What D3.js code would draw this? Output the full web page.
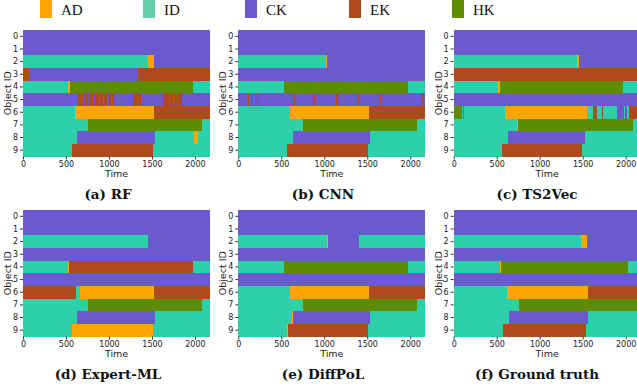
<!DOCTYPE html>
<html lang="en">
<head>
    <meta charset="UTF-8">
    <title>Object state timelines</title>
    <style>
        body { margin: 0; background: #fff; }
        .tick text { font-family: "DejaVu Sans", sans-serif; fill: #222; }
        .tick line { stroke: #333; }
    </style>
</head>
<body>
<script src="https://cdn.jsdelivr.net/npm/d3@7/dist/d3.min.js"></script>
<script>
    // state labels and colours
    const states = ["AD", "ID", "CK", "EK", "HK"];
    const plotColors = ["#ffa500", "#2dd1a9", "#6a5acd", "#ae4a1c", "#5e8c00"];
    const legendColors = ["#ffa500", "#66cdaa", "#6a5acd", "#ae4a1c", "#5f8f00"];

    const objectIds = [0, 1, 2, 3, 4, 5, 6, 7, 8, 9];
    const timeTicks = [0, 500, 1000, 1500, 2000];
    const END = 2175;

    // each row: list of [state, end time], start = previous end
    const rfRows = [
        [["CK", END]],
        [["CK", END]],
        [["ID", 1450], ["AD", 1523], ["CK", END]],
        [["EK", 20], ["CK", 28], ["EK", 45], ["CK", 50], ["EK", 70], ["CK", 1333], ["EK", END]],
        [["ID", 527], ["AD", 543], ["HK", 1977], ["ID", END]],
        [["CK", 636], ["EK", 680], ["CK", 686], ["EK", 715], ["CK", 722], ["EK", 760], ["CK", 770], ["EK", 830],
         ["CK", 838], ["EK", 880], ["CK", 895], ["EK", 935], ["CK", 945], ["EK", 975], ["CK", 1000], ["EK", 1020],
         ["CK", 1040], ["EK", 1060], ["CK", 1275], ["EK", 1300], ["CK", 1308], ["EK", 1330], ["CK", 1340], ["EK", 1372],
         ["CK", 1632], ["EK", 1660], ["CK", 1668], ["EK", 1700], ["CK", 1712], ["EK", 1740], ["CK", 1755], ["EK", 1790],
         ["CK", 1800], ["EK", 1845], ["CK", END]],
        [["ID", 608], ["AD", 1523], ["EK", END]],
        [["ID", 752], ["HK", 2081], ["ID", END]],
        [["ID", 632], ["CK", 1531], ["ID", 1988], ["AD", 2035], ["ID", END]],
        [["ID", 570], ["EK", 1508], ["ID", END]]
    ];
    const cnnRows = [
        [["CK", END]],
        [["CK", END]],
        [["ID", 1023], ["AD", 1030], ["CK", END]],
        [["CK", END]],
        [["ID", 527], ["AD", 535], ["HK", 1969], ["ID", END]],
        [["CK", 112], ["EK", 128], ["CK", 149], ["EK", 155], ["CK", 223], ["EK", 228], ["CK", 389], ["EK", 394],
         ["CK", 610], ["EK", 616], ["CK", 649], ["EK", 655], ["CK", 886], ["EK", 891], ["CK", 1136], ["EK", 1160],
         ["CK", 1397], ["EK", 1402], ["CK", 1651], ["EK", 1665], ["CK", 1928], ["EK", 1933], ["CK", 2140],
         ["EK", 2160], ["CK", END]],
        [["ID", 601], ["AD", 1523], ["EK", END]],
        [["ID", 748], ["HK", 2078], ["ID", END]],
        [["ID", 632], ["CK", 1527], ["ID", END]],
        [["ID", 570], ["EK", 1504], ["ID", END]]
    ];
    const ts2vecRows = [
        [["CK", END]],
        [["CK", END]],
        [["ID", 1438], ["AD", 1457], ["CK", END]],
        [["EK", END]],
        [["ID", 516], ["AD", 535], ["HK", 1973], ["ID", END]],
        [["CK", END]],
        [["HK", 95], ["ID", 105], ["HK", 125], ["ID", 600], ["AD", 1550], ["ID", 1625], ["EK", 1672], ["ID", 1700],
         ["EK", 1706], ["ID", 1730], ["EK", 1736], ["ID", 1760], ["EK", 1765], ["ID", 1900], ["CK", 1975],
         ["ID", 1990], ["CK", 2010], ["ID", 2035], ["EK", END]],
        [["ID", 740], ["AD", 748], ["HK", 2081], ["ID", END]],
        [["ID", 628], ["CK", 1523], ["ID", END]],
        [["ID", 566], ["EK", 1492], ["ID", END]]
    ];
    const expertRows = [
        [["CK", END]],
        [["CK", END]],
        [["ID", 1450], ["AD", 1458], ["CK", END]],
        [["CK", END]],
        [["ID", 527], ["AD", 535], ["EK", 1973], ["ID", END]],
        [["CK", END]],
        [["EK", 616], ["ID", 663], ["AD", 1527], ["EK", END]],
        [["ID", 752], ["HK", 2081], ["ID", END]],
        [["ID", 632], ["CK", 1531], ["ID", END]],
        [["ID", 570], ["AD", 1508], ["ID", END]]
    ];
    const diffpolRows = [
        [["CK", END]],
        [["CK", END]],
        [["ID", 1031], ["AD", 1040], ["CK", 1399], ["ID", END]],
        [["CK", END]],
        [["ID", 527], ["AD", 535], ["HK", 1969], ["ID", END]],
        [["CK", END]],
        [["ID", 601], ["AD", 1523], ["EK", END]],
        [["ID", 748], ["AD", 752], ["HK", 2078], ["ID", END]],
        [["ID", 624], ["AD", 632], ["CK", 1527], ["ID", END]],
        [["ID", 570], ["AD", 574], ["EK", 1504], ["ID", END]]
    ];
    const truthRows = [
        [["CK", END]],
        [["CK", END]],
        [["ID", 1484], ["AD", 1554], ["CK", END]],
        [["CK", END]],
        [["ID", 539], ["AD", 547], ["HK", 2027], ["ID", END]],
        [["CK", END]],
        [["ID", 616], ["AD", 1562], ["EK", END]],
        [["ID", 764], ["HK", 2140], ["ID", END]],
        [["ID", 643], ["CK", 1566], ["ID", END]],
        [["ID", 578], ["EK", 1539], ["ID", END]]
    ];

    const captions = ["(a) RF", "(b) CNN", "(c) TS2Vec", "(d) Expert-ML", "(e) DiffPoL", "(f) Ground truth"];
    const panelRows = [rfRows, cnnRows, ts2vecRows, expertRows, diffpolRows, truthRows];

    // layout
    const plotLeft = [23, 238.3, 453.7];
    const captionX = [108, 323, 537];
    const plotTop = [30, 210];
    const plotW = 187, plotH = 126.5;

    const color = d3.scaleOrdinal().domain(states).range(plotColors);
    const legendColor = d3.scaleOrdinal().domain(states).range(legendColors);

    const svg = d3.select("body").append("svg")
        .attr("width", 637)
        .attr("height", 389);

    // legend
    const legendX = [40, 143, 245, 349, 452];
    const legend = svg.append("g").selectAll("g")
        .data(states)
        .join("g")
            .attr("transform", (d, i) => `translate(${legendX[i]},0)`);
    legend.append("rect")
        .attr("x", 0).attr("y", -4)
        .attr("width", 12).attr("height", 22)
        .attr("fill", d => legendColor(d));
    legend.append("text")
        .attr("x", 21).attr("y", 15)
        .style("font-family", "Liberation Serif, serif")
        .style("font-size", "15px")
        .attr("fill", "#111")
        .text(d => d);

    const xScale = d3.scaleLinear().domain([0, END]).range([0, plotW]);
    const yScale = d3.scaleBand().domain(objectIds).range([0, plotH]);

    panelRows.forEach((rows, p) => {
        const col = p % 3, row = Math.floor(p / 3);
        const g = svg.append("g")
            .attr("transform", `translate(${plotLeft[col]},${plotTop[row]})`);

        // turn [state, end] lists into segments
        const segs = [];
        rows.forEach((r, id) => {
            let start = 0;
            r.forEach(([s, e]) => {
                segs.push({id: id, state: s, start: start, end: e});
                start = e;
            });
        });

        g.append("g").selectAll("rect")
            .data(segs)
            .join("rect")
                .attr("x", d => xScale(d.start))
                .attr("y", d => yScale(d.id))
                .attr("width", d => Math.max(0, xScale(d.end) - xScale(d.start)))
                .attr("height", yScale.bandwidth() + 0.3)
                .attr("fill", d => color(d.state))
                .attr("shape-rendering", "crispEdges");

        const xAxis = g.append("g")
            .attr("transform", `translate(0,${plotH})`)
            .call(d3.axisBottom(xScale).tickValues(timeTicks).tickFormat(d3.format("d"))
                .tickSize(3).tickPadding(1.5));
        xAxis.select(".domain").remove();
        xAxis.selectAll("text").style("font-size", "8px");

        const yAxis = g.append("g")
            .call(d3.axisLeft(yScale).tickSize(3).tickPadding(2));
        yAxis.select(".domain").remove();
        yAxis.selectAll("text").style("font-size", "8px");

        g.append("text")
            .attr("x", plotW / 2)
            .attr("y", plotH + 20)
            .attr("text-anchor", "middle")
            .style("font-family", "DejaVu Sans, sans-serif")
            .style("font-size", "9.5px")
            .attr("fill", "#222")
            .text("Time");

        g.append("text")
            .attr("transform", `translate(-12,${plotH / 2}) rotate(-90)`)
            .attr("text-anchor", "middle")
            .style("font-family", "DejaVu Sans, sans-serif")
            .style("font-size", "9.5px")
            .attr("fill", "#222")
            .text("Object ID");

        svg.append("text")
            .attr("x", captionX[col])
            .attr("y", plotTop[row] + plotH + 42)
            .attr("text-anchor", "middle")
            .style("font-family", "DejaVu Serif, serif")
            .style("font-weight", "bold")
            .style("font-size", "13.5px")
            .attr("fill", "#111")
            .text(captions[p]);
    });
</script>
</body>
</html>
